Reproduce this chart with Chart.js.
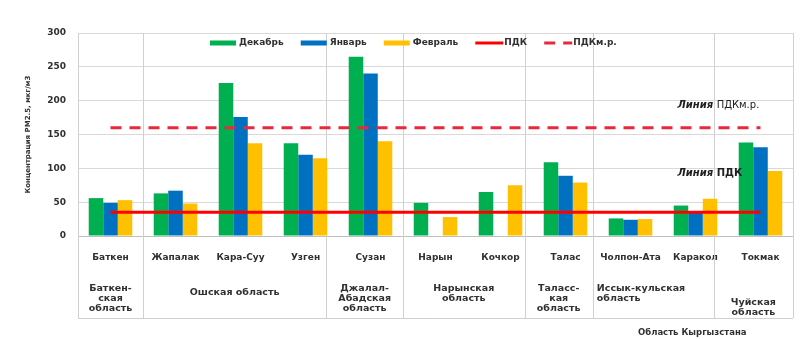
<!DOCTYPE html>
<html>
<head>
<meta charset="utf-8">
<script src="https://cdn.jsdelivr.net/npm/chart.js@4"></script>
<style>
  html, body { margin: 0; padding: 0; background: #fff; }
  .wrap { position: relative; width: 808px; height: 339px; }
</style>
</head>
<body>
<div class="wrap"><canvas id="pmChart"></canvas></div>
<script>
const stations = ['Баткен', 'Жапалак', 'Кара-Суу', 'Узген', 'Сузан', 'Нарын', 'Кочкор', 'Талас', 'Чолпон-Ата', 'Каракол', 'Токмак'];
const december = [56, 63, 226, 137, 265, 49, 65, 109, 26, 45, 138];
const january = [49, 67, 176, 120, 240, null, null, 89, 24, 35, 131];
const february = [53, 48, 137, 115, 140, 28, 75, 79, 25, 55, 96];
const pdk = 35;
const pdkMr = 160;
const yTicks = [0, 50, 100, 150, 200, 250, 300];

const regionNames = [
  ['Баткен-', 'ская', 'область'],
  ['Ошская область'],
  ['Джалал-', 'Абадская', 'область'],
  ['Нарынская', 'область'],
  ['Таласс-', 'кая', 'область'],
  ['Иссык-кульская', 'область'],
  ['Чуйская', 'область']
];
const footerTitle = 'Область Кыргызстана';

// границы блоков областей (в долях категории) и отступ первой строки подписи под осью
const regionEdges = [-0.5, 0.5, 3.32, 4.5, 6.37, 7.42, 9.28, 10.5];
const regionTextTop = [53, 57, 53, 53, 53, 53, 67];
const regionAlign = ['center', 'center', 'center', 'center', 'center', 'left', 'center'];

const FONT = '"DejaVu Sans", sans-serif';
const textColor = '#303030';
const lineGrey = '#d0d0d0';

function edgeX(xs, v) {
  const step = xs.getPixelForValue(1) - xs.getPixelForValue(0);
  return xs.getPixelForValue(0) + v * step;
}

// вертикальные разделители и таблица областей под осью
const regionsPlugin = {
  id: 'regions',
  beforeDatasetsDraw(chart) {
    const {ctx, chartArea} = chart;
    const xs = chart.scales.x;
    ctx.save();
    ctx.strokeStyle = lineGrey;
    ctx.lineWidth = 1;
    regionEdges.forEach(e => {
      const x = Math.round(edgeX(xs, e)) + 0.5;
      ctx.beginPath();
      ctx.moveTo(x, chartArea.top);
      ctx.lineTo(x, chartArea.bottom + 82);
      ctx.stroke();
    });
    ctx.beginPath();
    ctx.moveTo(edgeX(xs, regionEdges[0]), chartArea.bottom + 82.5);
    ctx.lineTo(edgeX(xs, regionEdges[regionEdges.length - 1]), chartArea.bottom + 82.5);
    ctx.stroke();

    ctx.fillStyle = textColor;
    ctx.font = 'bold 9.5px ' + FONT;
    ctx.textBaseline = 'middle';
    regionNames.forEach((lines, i) => {
      const l = edgeX(xs, regionEdges[i]);
      const r = edgeX(xs, regionEdges[i + 1]);
      ctx.textAlign = regionAlign[i];
      const x = regionAlign[i] === 'left' ? l + 4 : (l + r) / 2;
      lines.forEach((t, k) => ctx.fillText(t, x, chartArea.bottom + regionTextTop[i] + k * 10));
    });
    ctx.font = 'bold 8.5px ' + FONT;
    ctx.textAlign = 'center';
    ctx.fillText(footerTitle, edgeX(xs, 8.95), chartArea.bottom + 97);
    ctx.restore();
  },
  afterDraw(chart) {
    const {ctx, chartArea} = chart;
    const xs = chart.scales.x, ys = chart.scales.y;

    // легенда внутри области построения
    ctx.save();
    ctx.font = 'bold 9px ' + FONT;
    ctx.textBaseline = 'middle';
    ctx.textAlign = 'left';
    let x = chartArea.left + 132;
    const y = chartArea.top + 10;
    chart.data.datasets.forEach(ds => {
      if (ds.type === 'line') {
        ctx.strokeStyle = ds.borderColor;
        ctx.lineWidth = 3;
        ctx.setLineDash(ds.borderDash || []);
        ctx.beginPath();
        ctx.moveTo(x, y);
        ctx.lineTo(x + 28, y);
        ctx.stroke();
        ctx.setLineDash([]);
      } else {
        ctx.fillStyle = ds.backgroundColor;
        ctx.fillRect(x, y - 2.5, 26, 5);
      }
      x += 29;
      ctx.fillStyle = textColor;
      ctx.fillText(ds.label, x, y);
      x += ctx.measureText(ds.label).width + 17;
    });

    // подписи линий ПДК
    const lx = xs.getPixelForValue(9) - 18;
    const parts = [
      [pdkMr, 'Линия ', 'ПДКм.р.', 'normal'],
      [pdk, 'Линия ', 'ПДК', 'bold']
    ];
    parts.forEach(([lvl, a, b, w], i) => {
      const ty = ys.getPixelForValue(lvl) - (i === 0 ? 22 : 39);
      ctx.font = 'italic bold 10px ' + FONT;
      ctx.fillStyle = '#202020';
      ctx.fillText(a, lx, ty);
      const wa = ctx.measureText(a).width;
      ctx.font = w + ' 10px ' + FONT;
      ctx.fillText(b, lx + wa, ty);
    });
    ctx.restore();
  }
};

const ctx = document.getElementById('pmChart').getContext('2d');
const pmChart = new Chart(ctx, {
  type: 'bar',
  data: {
    labels: stations,
    datasets: [
      { label: 'Декабрь', data: december, backgroundColor: '#00b050', order: 1 },
      { label: 'Январь', data: january, backgroundColor: '#0070c0', order: 1 },
      { label: 'Февраль', data: february, backgroundColor: '#ffc000', order: 1 },
      {
        type: 'line', label: 'ПДК', data: stations.map(() => pdk),
        borderColor: '#ff0000', borderWidth: 3, pointRadius: 0, order: 0
      },
      {
        type: 'line', label: 'ПДКм.р.', data: stations.map(() => pdkMr),
        borderColor: '#e8283c', borderWidth: 3, borderDash: [11, 8], pointRadius: 0, order: 0
      }
    ]
  },
  options: {
    responsive: true,
    maintainAspectRatio: false,
    animation: false,
    layout: { padding: { top: 33, right: 15, left: 0, bottom: 0 } },
    datasets: { bar: { categoryPercentage: 0.67, barPercentage: 1.0, borderWidth: 0 } },
    plugins: { legend: { display: false }, tooltip: { enabled: false } },
    scales: {
      x: {
        grid: { display: false },
        border: { color: '#bfbfbf' },
        ticks: {
          color: textColor, font: { family: FONT, size: 9, weight: 'bold' },
          padding: 8, maxRotation: 0, autoSkip: false
        },
        afterFit(scale) { scale.height = 103; }
      },
      y: {
        min: yTicks[0],
        max: yTicks[yTicks.length - 1],
        grid: { color: '#d9d9d9', drawTicks: false },
        border: { color: '#bfbfbf' },
        ticks: {
          stepSize: yTicks[1] - yTicks[0],
          color: textColor, font: { family: FONT, size: 9, weight: 'bold' }, padding: 12
        },
        title: {
          display: true,
          text: 'Концентрация РМ2.5, мкг/м3',
          color: textColor,
          font: { family: FONT, size: 7, weight: 'bold' },
          padding: { top: 24, bottom: 0 }
        },
        afterFit(scale) { scale.width = 78; }
      }
    }
  },
  plugins: [regionsPlugin]
});
</script>
</body>
</html>
